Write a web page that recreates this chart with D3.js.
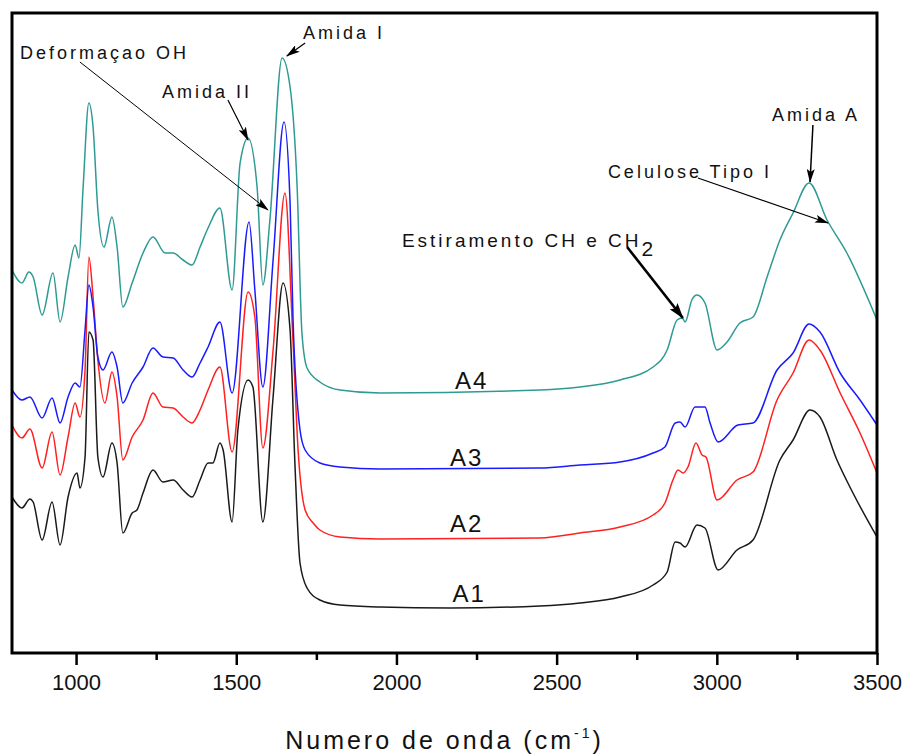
<!DOCTYPE html>
<html>
<head>
<meta charset="utf-8" />
<script src="https://d3js.org/d3.v7.min.js"></script>
<style>
    body { margin: 0; background: #fff; }
    text { font-family: "Liberation Sans", Arial, sans-serif; fill: #111; }
    .spec { fill: none; stroke-width: 1.5px; stroke-linejoin: round; }
    .note { font-size: 18px; letter-spacing: 3px; }
    .lbl { font-size: 24px; letter-spacing: 2px; }
</style>
</head>
<body>
<svg width="906" height="755"></svg>
<script>
// wavenumber (cm-1), intensity (arbitrary units, offset spectra)
var A1 = [[800,156],[831,145],[856,154],[866,151],[894,113],[925,151],[950,108],[975,156],[1003,180],[1012,165],
    [1028,196],[1040,321],[1053,313],[1068,196],[1084,176],[1112,210],[1128,190],[1146,120],[1175,140],[1190,143],
    [1209,160],[1240,183],[1271,171],[1303,173],[1334,163],[1362,156],[1387,173],[1412,190],[1427,190],[1449,210],
    [1459,203],[1487,131],[1505,223],[1537,273],[1552,266],[1583,131],[1615,256],[1646,370],[1668,323],[1683,190],
    [1699,90],[1721,65],[1761,53],[1824,48],[1949,46],[2167,45],[2448,47],[2573,50],[2698,56],[2801,68],
    [2845,81],[2870,111],[2885,110],[2901,106],[2938,128],[2963,125],[3004,83],[3063,103],[3113,113],[3197,193],
    [3238,213],[3291,243],[3322,236],[3375,193],[3425,160],[3500,116]];

var A2 = [[800,228],[831,215],[856,224],[894,185],[925,221],[950,178],[975,216],[997,250],[1012,236],[1028,283],
    [1040,396],[1053,356],[1068,293],[1090,250],[1112,281],[1128,256],[1146,193],[1175,216],[1209,233],[1240,260],
    [1271,246],[1303,245],[1334,236],[1362,230],[1387,243],[1412,263],[1449,286],[1487,201],[1537,361],[1558,336],
    [1583,205],[1615,303],[1652,460],[1677,313],[1693,203],[1715,143],[1740,130],[1761,123],[1824,116],[1949,114],
    [2448,115],[2573,120],[2698,126],[2801,138],[2838,150],[2863,173],[2879,183],[2895,180],[2910,186],[2935,210],
    [2954,198],[2966,196],[3001,153],[3063,173],[3113,181],[3188,253],[3238,280],[3288,313],[3322,303],[3385,260],
    [3447,220],[3500,180]];

var A3 = [[800,263],[831,253],[856,256],[894,235],[925,255],[950,230],[975,256],[997,270],[1012,266],[1028,323],
    [1040,368],[1053,346],[1068,296],[1084,283],[1112,301],[1128,286],[1146,250],[1175,270],[1209,286],[1240,305],
    [1271,296],[1303,295],[1334,283],[1362,276],[1387,290],[1412,306],[1449,331],[1487,260],[1540,431],[1558,363],
    [1583,266],[1615,393],[1649,531],[1668,450],[1677,336],[1699,223],[1715,203],[1761,190],[1824,186],[1949,184],
    [2448,185],[2573,188],[2698,191],[2801,200],[2838,206],[2870,230],[2885,231],[2901,226],[2932,246],[2963,246],
    [2979,230],[3004,211],[3066,228],[3113,230],[3188,283],[3238,300],[3288,329],[3322,321],[3385,280],[3447,253],
    [3500,228]];

var A4 = [[800,383],[831,370],[853,381],[866,376],[894,338],[928,380],[950,331],[975,376],[997,408],[1009,395],
    [1022,466],[1040,550],[1053,526],[1068,443],[1087,406],[1112,436],[1128,406],[1146,346],[1175,370],[1209,400],
    [1240,416],[1278,400],[1303,400],[1334,393],[1362,388],[1387,406],[1412,425],[1449,445],[1487,363],[1512,490],
    [1537,515],[1565,466],[1583,368],[1605,433],[1643,595],[1668,566],[1690,466],[1705,320],[1721,285],[1761,271],
    [1824,263],[1949,260],[2448,263],[2573,266],[2698,273],[2801,286],[2845,303],[2876,333],[2892,335],[2901,331],
    [2922,353],[2938,358],[2963,350],[3001,303],[3032,311],[3072,330],[3113,336],[3157,376],[3197,413],[3238,440],
    [3288,470],[3344,433],[3406,400],[3500,333]];

var seriesNames = ["A1", "A2", "A3", "A4"];
var seriesColors = ["#1a1a1a", "#ff2020", "#1a1aff", "#2e9a94"];
var majorTicks = [1000, 1500, 2000, 2500, 3000, 3500];
var minorTicks = [1250, 1750, 2250, 2750, 3250];

// sample labels [wavenumber, intensity]
var seriesLabelPos = [[2175, 60], [2167, 130], [2167, 196], [2183, 273]];

// annotations: text position, arrow start, arrow end (data coords)
var notes = [
    {text: "Deformaçao OH", at: [825, 600], from: [1012, 591], to: [1599, 443], w: 1},
    {text: "Amida II", at: [1268, 561], from: [1474, 553], to: [1537, 513], w: 1.2},
    {text: "Amida I", at: [1708, 620], from: [1715, 610], to: [1658, 597], w: 1.2},
    {text: "Estiramento CH e CH", sub: "2", at: [2017, 413], from: [2720, 406], to: [2894, 335], w: 2.6},
    {text: "Celulose Tipo I", at: [2660, 481], from: [2941, 475], to: [3347, 430], w: 1.2},
    {text: "Amida A", at: [3172, 538], from: [3300, 528], to: [3291, 471], w: 1.5}
];

var svg = d3.select("svg");
var plotL = 12, plotR = 877, plotT = 13, plotB = 653;

var x = d3.scaleLinear().domain([800, 3500]).range([plotL, plotR]);
var y = d3.scaleLinear().domain([0, 640]).range([plotB, plotT]);

var defs = svg.append("defs");
defs.append("marker")
    .attr("id", "head")
    .attr("viewBox", "0 0 14 8")
    .attr("refX", 13).attr("refY", 4)
    .attr("markerWidth", 14).attr("markerHeight", 8)
    .attr("markerUnits", "userSpaceOnUse")
    .attr("orient", "auto")
    .append("path").attr("d", "M0,0 L14,4 L0,8 L3,4 Z").attr("fill", "#000");
defs.append("marker")
    .attr("id", "headBig")
    .attr("viewBox", "0 0 16 10")
    .attr("refX", 15).attr("refY", 5)
    .attr("markerWidth", 16).attr("markerHeight", 10)
    .attr("markerUnits", "userSpaceOnUse")
    .attr("orient", "auto")
    .append("path").attr("d", "M0,0 L16,5 L0,10 L3,5 Z").attr("fill", "#000");

var line = d3.line()
    .curve(d3.curveMonotoneX)
    .x(function (d) { return x(d[0]); })
    .y(function (d) { return y(d[1]); });

var allSeries = [A1, A2, A3, A4];
svg.append("g").selectAll("path")
    .data(allSeries)
    .enter().append("path")
    .attr("class", "spec")
    .attr("stroke", function (d, i) { return seriesColors[i]; })
    .attr("d", line);

// sample labels
svg.append("g").selectAll("text")
    .data(seriesLabelPos)
    .enter().append("text")
    .attr("class", "lbl")
    .attr("x", function (d) { return x(d[0]); })
    .attr("y", function (d) { return y(d[1]); })
    .attr("dy", "0.36em")
    .text(function (d, i) { return seriesNames[i]; });

// annotations
var ann = svg.append("g");
notes.forEach(function (n) {
    var t = ann.append("text")
        .attr("class", "note")
        .attr("x", x(n.at[0]))
        .attr("y", y(n.at[1]))
        .attr("dy", "0.36em");
    if (n.sub) {
        t.style("font-size", "19px");
        t.append("tspan").text(n.text);
        t.append("tspan").attr("dy", 9).style("font-size", "21px").text(n.sub);
    } else {
        t.text(n.text);
    }
    ann.append("line")
        .attr("x1", x(n.from[0])).attr("y1", y(n.from[1]))
        .attr("x2", x(n.to[0])).attr("y2", y(n.to[1]))
        .attr("stroke", "#000")
        .attr("stroke-width", n.w)
        .attr("marker-end", n.w > 2 ? "url(#headBig)" : "url(#head)");
});

// x axis
var axis = svg.append("g")
    .attr("transform", "translate(0," + plotB + ")")
    .call(d3.axisBottom(x).tickValues(majorTicks).tickSize(12).tickPadding(9).tickFormat(d3.format("d")));
axis.select(".domain").remove();
axis.selectAll(".tick line").attr("stroke", "#000").attr("stroke-width", 2.5);
axis.selectAll(".tick text")
    .style("font-family", "'Liberation Sans', Arial, sans-serif")
    .style("font-size", "22px")
    .attr("fill", "#111");

var minor = svg.append("g")
    .attr("transform", "translate(0," + plotB + ")")
    .call(d3.axisBottom(x).tickValues(minorTicks).tickSize(7).tickFormat(""));
minor.select(".domain").remove();
minor.selectAll(".tick line").attr("stroke", "#000").attr("stroke-width", 2.5);

// frame
svg.append("rect")
    .attr("x", plotL).attr("y", plotT)
    .attr("width", plotR - plotL).attr("height", plotB - plotT)
    .attr("fill", "none")
    .attr("stroke", "#000")
    .attr("stroke-width", 3);

// x title
var title = svg.append("text")
    .attr("x", (plotL + plotR) / 2)
    .attr("y", 749)
    .attr("text-anchor", "middle")
    .style("font-size", "25px")
    .style("letter-spacing", "3px");
title.append("tspan").text("Numero de onda (cm");
title.append("tspan").attr("dy", -11).style("font-size", "14px").text("-1");
title.append("tspan").attr("dy", 11).text(")");
</script>
</body>
</html>
